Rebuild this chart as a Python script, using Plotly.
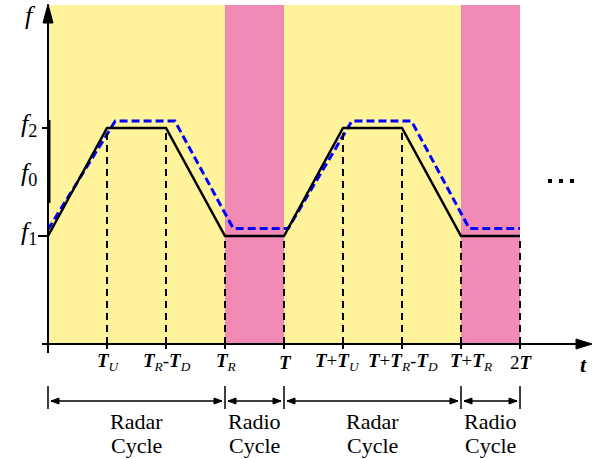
import plotly.graph_objects as go

# ---------------- data ----------------
time_ticks = [0, 1, 2, 3, 4, 5, 6, 7, 8]
time_labels = [
    "",
    "<b><i>T</i></b><sub><i>U</i></sub>",
    "<b><i>T</i></b><sub><i>R</i></sub>-<b><i>T</i></b><sub><i>D</i></sub>",
    "<b><i>T</i></b><sub><i>R</i></sub>",
    "<b><i>T</i></b>",
    "<b><i>T</i></b>+<b><i>T</i></b><sub><i>U</i></sub>",
    "<b><i>T</i></b>+<b><i>T</i></b><sub><i>R</i></sub>-<b><i>T</i></b><sub><i>D</i></sub>",
    "<b><i>T</i></b>+<b><i>T</i></b><sub><i>R</i></sub>",
    "2<b><i>T</i></b>",
]
freq_values = [2, 1.55, 1]
freq_labels = ["<i>f</i><sub>2</sub>", "<i>f</i><sub>0</sub>", "<i>f</i><sub>1</sub>"]
freq_tick_values = [2, 1]

black_t = [0, 1, 2, 3, 4, 5, 6, 7, 8]
black_f = [1, 2, 2, 1, 1, 2, 2, 1, 1]
blue_t = [0, 1.14, 2.15, 3.14, 4.07, 5.15, 6.16, 7.14, 8]
blue_f = [1.06, 2.065, 2.065, 1.07, 1.07, 2.065, 2.065, 1.07, 1.07]

cycle_bounds = [0, 3, 4, 7, 8]
cycle_first = ["Radar", "Radio", "Radar", "Radio"]
cycle_second = ["Cycle", "Cycle", "Cycle", "Cycle"]
radio_spans = [(3, 4), (7, 8)]

# ---------------- geometry helpers (pixel -> data) ----------------
W, H = 592, 459
X0, Y0, SX, SY = 48, 344, 59.0, 108.0


def X(px):
    return (px - X0) / SX


def Y(py):
    return (Y0 - py) / SY


YELLOW = "#FFF49B"
PINK = "#F18BB6"
SERIF = "Liberation Serif, Times New Roman, serif"

fig = go.Figure()
shapes = []
ann = []

# backgrounds
shapes.append(dict(type="rect", x0=0, x1=time_ticks[-1], y0=0, y1=Y(5),
                   fillcolor=YELLOW, line_width=0, layer="below"))
for a, b in radio_spans:
    shapes.append(dict(type="rect", x0=a, x1=b, y0=0, y1=Y(5),
                       fillcolor=PINK, line_width=0, layer="below"))

# dashed verticals
for t, f in zip(black_t[1:], black_f[1:]):
    shapes.append(dict(type="line", x0=t, x1=t, y0=0, y1=f,
                       line=dict(color="black", width=2, dash="7px,5px")))

# axes
shapes.append(dict(type="line", x0=0, x1=0, y0=Y(353), y1=Y(20),
                   line=dict(color="black", width=2)))
shapes.append(dict(type="line", x0=X(49), x1=X(49), y0=Y(120), y1=Y(203),
                   line=dict(color="black", width=3)))
shapes.append(dict(type="path",
                   path=f"M {X(48)} {Y(4)} L {X(43)} {Y(23)} L {X(53)} {Y(23)} Z",
                   fillcolor="black", line=dict(color="black", width=1)))
shapes.append(dict(type="line", x0=X(42), x1=X(580), y0=0, y1=0,
                   line=dict(color="black", width=2)))
shapes.append(dict(type="path",
                   path=f"M {X(592)} {Y(344)} L {X(576)} {Y(339)} L {X(576)} {Y(349)} Z",
                   fillcolor="black", line=dict(color="black", width=1)))
for t in time_ticks[1:]:
    shapes.append(dict(type="line", x0=t, x1=t, y0=Y(337), y1=Y(349),
                       line=dict(color="black", width=2)))
for fv, left in zip(freq_tick_values, [42, 38]):
    shapes.append(dict(type="line", x0=X(left), x1=0, y0=fv, y1=fv,
                       line=dict(color="black", width=2)))

# cycle bars and double arrows
ya = Y(401)
for b in cycle_bounds:
    shapes.append(dict(type="line", x0=b, x1=b, y0=Y(386), y1=Y(409),
                       line=dict(color="black", width=1.5)))
for a, b in zip(cycle_bounds[:-1], cycle_bounds[1:]):
    xa, xb = a + X(51), b - X(51)
    shapes.append(dict(type="line", x0=xa, x1=xb, y0=ya, y1=ya,
                       line=dict(color="black", width=1.5)))
    hl, hw = X(48 + 8), (Y(0) - Y(3))
    shapes.append(dict(type="path",
                       path=f"M {xa} {ya} L {xa + hl} {ya + hw} L {xa + hl} {ya - hw} Z",
                       fillcolor="black", line=dict(color="black", width=1)))
    shapes.append(dict(type="path",
                       path=f"M {xb} {ya} L {xb - hl} {ya + hw} L {xb - hl} {ya - hw} Z",
                       fillcolor="black", line=dict(color="black", width=1)))

# traces
fig.add_trace(go.Scatter(x=blue_t, y=blue_f, mode="lines",
                         line=dict(color="#0000FF", width=3, dash="8px,4px"),
                         hoverinfo="skip", showlegend=False))
fig.add_trace(go.Scatter(x=black_t, y=black_f, mode="lines",
                         line=dict(color="black", width=2.5),
                         hoverinfo="skip", showlegend=False))
fig.add_trace(go.Scatter(x=[X(550), X(561), X(572)], y=[Y(181)] * 3, mode="markers",
                         marker=dict(symbol="square", size=4, color="black"),
                         hoverinfo="skip", showlegend=False))

# tick labels (pixel shifts keep the crowded second-cycle labels apart)
label_shift = {5: -6, 7: 10}
for t, lab in zip(time_ticks, time_labels):
    if not lab:
        continue
    ann.append(dict(x=t, y=Y(362), xshift=label_shift.get(t, 1), text=lab,
                    showarrow=False, xanchor="center", yanchor="middle",
                    font=dict(family=SERIF, size=19, color="black")))
ann.append(dict(x=X(583), y=Y(364), text="<b><i>t</i></b>", showarrow=False,
                font=dict(family=SERIF, size=22, color="black")))
ann.append(dict(x=X(38), y=Y(15), text="<i>f</i>", showarrow=False, xanchor="right",
                font=dict(family=SERIF, size=26, color="black")))
for fv, lab in zip(freq_values, freq_labels):
    ann.append(dict(x=X(39), y=fv, yshift=3, text=lab, showarrow=False, xanchor="right",
                    font=dict(family=SERIF, size=26, color="black")))

# cycle names
for a, b, n1, n2 in zip(cycle_bounds[:-1], cycle_bounds[1:], cycle_first, cycle_second):
    ann.append(dict(x=(a + b) / 2, y=Y(421), text=n1, showarrow=False,
                    font=dict(family=SERIF, size=22, color="black")))
    ann.append(dict(x=(a + b) / 2, y=Y(445), text=n2, showarrow=False,
                    font=dict(family=SERIF, size=22, color="black")))

fig.update_layout(
    width=W, height=H, margin=dict(l=0, r=0, t=0, b=0),
    paper_bgcolor="white", plot_bgcolor="white",
    font=dict(family=SERIF),
    xaxis=dict(range=[X(0), X(W)], visible=False, fixedrange=True),
    yaxis=dict(range=[Y(H), Y(0)], visible=False, fixedrange=True),
    shapes=shapes, annotations=ann, showlegend=False,
)
fig.write_html("out.html")
